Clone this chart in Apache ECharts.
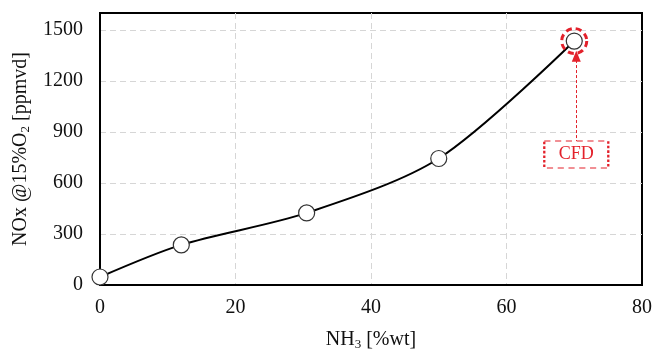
<!DOCTYPE html>
<html>
<head>
<meta charset="utf-8">
<script src="https://cdn.jsdelivr.net/npm/echarts@6/dist/echarts.min.js"></script>
<style>
  html, body { margin: 0; padding: 0; background: #fff; }
  #chart { width: 655px; height: 352px; }
</style>
</head>
<body>
<div id="chart"></div>
<script>
// NH3 mass fraction [%wt] vs NOx @15%O2 [ppmvd]
const nh3 = [0, 12, 30.5, 50, 70]
const nox = [47, 236, 424, 744, 1435]

// CFD annotation (data units)
const cfdPoint = [70, 1435]
const cfdArrow = [[70.3, 835], [70.3, 1345]]
const cfdLabel = [70.3, 768]

const red = '#e3212b'
const ink = '#111'
const font = "'Liberation Serif', 'Times New Roman', serif"

const chart = echarts.init(document.getElementById('chart'))

const titleRich = {
  a: { fontFamily: font, fontSize: 20, color: ink },
  s: { fontFamily: font, fontSize: 13, color: ink, padding: [9, 0, 0, 0] }
}

chart.setOption({
  animation: false,
  textStyle: { fontFamily: font },
  grid: {
    left: 100, right: 13, top: 13, bottom: 67,
    outerBoundsMode: 'none',
    containLabel: false,
    show: true,
    borderColor: '#000',
    borderWidth: 2
  },
  xAxis: {
    type: 'value',
    min: 0,
    max: 80,
    interval: 20,
    name: '{a|NH}{s|3}{a| [%wt]}',
    nameLocation: 'middle',
    nameGap: 44,
    nameTextStyle: { rich: titleRich },
    axisLine: { lineStyle: { color: '#000', width: 2 } },
    axisTick: { show: false },
    axisLabel: { color: ink, fontSize: 20, fontFamily: font, margin: 13 },
    splitLine: { showMinLine: false, showMaxLine: false, lineStyle: { color: '#d6d6d6', type: [6, 4] } }
  },
  yAxis: {
    type: 'value',
    min: 0,
    max: 1600,
    interval: 300,
    name: '{a|NOx @15%O}{s|2}{a| [ppmvd]}',
    nameLocation: 'middle',
    nameGap: 68,
    nameTextStyle: { rich: titleRich },
    axisLine: { show: true, lineStyle: { color: '#000', width: 2 } },
    axisTick: { show: false },
    axisLabel: {
      color: ink, fontSize: 20, fontFamily: font, margin: 17, showMaxLabel: false,
      formatter: v => String(v)
    },
    splitLine: { showMinLine: false, showMaxLine: false, lineStyle: { color: '#d6d6d6', type: [6, 4] } }
  },
  series: [
    {
      type: 'line',
      data: nh3.map((x, i) => [x, nox[i]]),
      smooth: 0.3,
      clip: false,
      symbol: 'circle',
      symbolSize: 16,
      lineStyle: { color: '#000', width: 2 },
      itemStyle: { color: '#fff', borderColor: '#333', borderWidth: 1.2 },
      z: 3,
      markPoint: {
        silent: true,
        data: [
          {
            coord: cfdPoint,
            symbol: 'circle',
            symbolSize: 25,
            itemStyle: { color: 'rgba(0,0,0,0)', borderColor: red, borderWidth: 3, borderType: [6, 4] },
            label: { show: false }
          },
          {
            coord: cfdLabel,
            symbol: 'rect',
            symbolSize: [64, 27],
            itemStyle: { color: '#fff', borderColor: red, borderWidth: 1.5, borderType: [4, 3] },
            label: { show: true, formatter: 'CFD', color: red, fontSize: 18, fontFamily: font, position: 'inside' }
          }
        ]
      },
      markLine: {
        silent: true,
        symbol: ['none', 'triangle'],
        symbolSize: [9, 11],
        label: { show: false },
        lineStyle: { color: red, width: 1, type: [3, 2] },
        data: [[{ coord: cfdArrow[0] }, { coord: cfdArrow[1] }]]
      }
    }
  ]
})
</script>
</body>
</html>
